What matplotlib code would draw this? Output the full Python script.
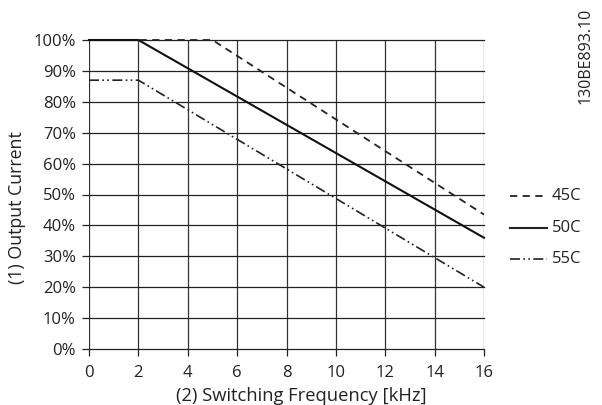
import matplotlib
matplotlib.use("Agg")
import matplotlib.pyplot as plt

plt.rcParams['font.family'] = ['Open Sans', 'DejaVu Sans']

freq_45 = [0, 5, 16]
curr_45 = [100, 100, 43.5]
freq_50 = [0, 2, 16]
curr_50 = [100, 100, 36]
freq_55 = [0, 2, 16]
curr_55 = [87, 87, 20]
labels = ['45C', '50C', '55C']
xticks = [0, 2, 4, 6, 8, 10, 12, 14, 16]
yticks = [0, 10, 20, 30, 40, 50, 60, 70, 80, 90, 100]

W, H = 602, 405
fig = plt.figure(figsize=(W/100, H/100), dpi=100)
ax = fig.add_axes([89/W, 1-349/H, (484-89)/W, (349-40)/H])
ax.set_xlim(0, 16)
ax.set_ylim(0, 100)

for x in xticks:
    ax.axvline(x, color='#333333', lw=0.9, zorder=1)
for y in yticks:
    ax.axhline(y, color='#222222', lw=0.9, zorder=1, clip_on=False)
for s in ax.spines.values():
    s.set_visible(False)

ls_45 = (0, (4, 3))
ls_55 = (0, (6, 2, 1, 2, 1, 2))
ax.plot(freq_45, curr_45, color='#222222', lw=1.3, linestyle=ls_45, zorder=3, clip_on=False)
ax.plot(freq_50, curr_50, color='#111111', lw=1.5, zorder=3, clip_on=False)
ax.plot(freq_55, curr_55, color='#222222', lw=1.2, linestyle=ls_55, zorder=3, clip_on=False)

ax.set_xticks(xticks)
ax.set_yticks(yticks)
ax.set_yticklabels([f'{v}%' for v in yticks])
ax.tick_params(axis='both', direction='out', length=5, width=0.9, color='#222222',
               labelsize=12, labelcolor='#222222')
ax.tick_params(axis='y', pad=4.5)
ax.tick_params(axis='x', pad=6.5)

fig.text(301/W, 1-396/H, '(2) Switching Frequency [kHz]', fontsize=13.2, color='#222222',
         ha='center', va='center')
fig.text(17.5/W, 1-208/H, '(1) Output Current', fontsize=12.8, color='#222222',
         ha='center', va='center', rotation=90)

# legend drawn manually to the right
leg_y = [49.5, 39, 29]
styles = [(ls_45, 1.3), ('-', 1.5), (ls_55, 1.2)]
for yv, lab, (ls, lw) in zip(leg_y, labels, styles):
    ax.plot([17.05, 18.55], [yv, yv], color='#222222', lw=lw, linestyle=ls, clip_on=False)
    ax.text(18.75, yv, lab, fontsize=12, color='#222222', va='center', ha='left', clip_on=False)

fig.text(586/W, 1-56/H, '130BE893.10', rotation=90, fontsize=11.5, color='#222222',
         ha='center', va='center')

fig.savefig('out.png', dpi=100)
